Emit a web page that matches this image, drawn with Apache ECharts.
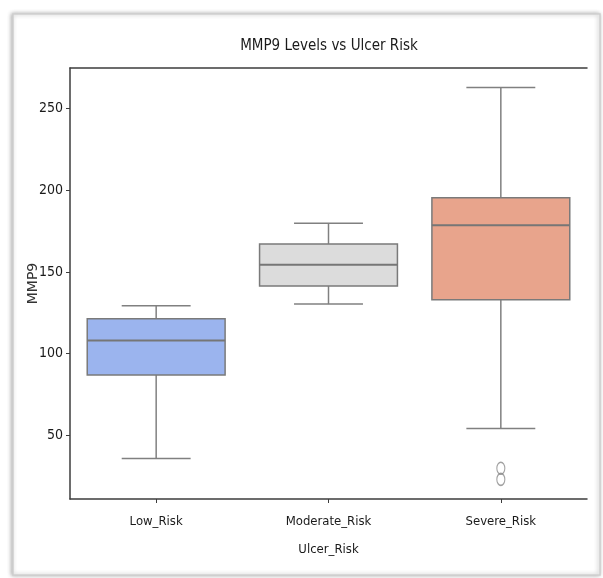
<!DOCTYPE html>
<html>
<head>
<meta charset="utf-8">
<script src="https://cdn.jsdelivr.net/npm/echarts@6/dist/echarts.min.js"></script>
<style>
  html, body { margin: 0; padding: 0; background: #fff; }
  #chart { width: 603px; height: 578px; }
</style>
</head>
<body>
<div id="chart"></div>
<script>
// ---- data ----
var categories = ['Low_Risk', 'Moderate_Risk', 'Severe_Risk'];
var whiskerLow  = [36.0, 130.3, 54.3];
var q1Values    = [87.0, 141.3, 133.0];
var medianVals  = [108.1, 154.3, 178.5];
var q3Values    = [121.3, 167.1, 195.3];
var whiskerHigh = [129.3, 179.7, 262.6];
var outlierCategory = ['Severe_Risk', 'Severe_Risk'];
var outlierValues   = [30.0, 23.2];
var yTicks = [50, 100, 150, 200, 250];

var boxColors = ['#9bb4ee', '#dcdcdc', '#e8a48c'];
var FONT = '"DejaVu Sans Condensed", "Liberation Sans Narrow", "DejaVu Sans", sans-serif';

var boxData = categories.map(function (c, i) {
  return [i, whiskerLow[i], q1Values[i], medianVals[i], q3Values[i], whiskerHigh[i]];
});
var outlierData = outlierValues.map(function (v, i) {
  return [categories.indexOf(outlierCategory[i]), v];
});

var allVals = whiskerLow.concat(whiskerHigh, outlierValues);
var dMin = Math.min.apply(null, allVals), dMax = Math.max.apply(null, allVals);
var pad = (dMax - dMin) * 0.05;

var chart = echarts.init(document.getElementById('chart'));
var lineCol = '#808080';

chart.setOption({
  animation: false,
  backgroundColor: '#fff',
  graphic: [
    { type: 'rect', z: -10, shape: { x: 13, y: 14, width: 587, height: 561 },
      style: { fill: '#fff', stroke: '#cfcfcf', lineWidth: 1.5,
               shadowBlur: 4, shadowColor: 'rgba(0,0,0,0.3)', shadowOffsetX: -1 } },
    { type: 'text', x: 329, y: 46, z: 10,
      style: { text: 'MMP9 Levels vs Ulcer Risk', fill: '#1a1a1a', font: '15px ' + FONT,
               textAlign: 'center', textVerticalAlign: 'middle' } }
  ],
  grid: { left: 70, right: 16, top: 68, bottom: 79, containLabel: false },
  xAxis: [{
    type: 'category', data: categories, position: 'bottom',
    name: 'Ulcer_Risk', nameLocation: 'middle', nameGap: 44,
    nameTextStyle: { color: '#1a1a1a', fontSize: 13, fontFamily: FONT },
    axisLine: { show: true, lineStyle: { color: '#3c3c3c', width: 1.5 } },
    axisTick: { show: true, alignWithLabel: true, length: 4, lineStyle: { color: '#3c3c3c' } },
    axisLabel: { color: '#1a1a1a', fontSize: 13, fontFamily: FONT, margin: 16 },
    splitLine: { show: false }
  }, {
    type: 'category', data: categories, position: 'top',
    axisLine: { show: true, lineStyle: { color: '#3c3c3c', width: 1.5 } },
    axisTick: { show: false }, axisLabel: { show: false }, splitLine: { show: false }
  }],
  yAxis: {
    type: 'value', min: dMin - pad, max: dMax + pad,
    name: 'MMP9', nameLocation: 'middle', nameGap: 30, nameRotate: 90,
    nameMoveOverlap: false,
    nameTextStyle: { color: '#333', fontSize: 14, fontFamily: '"DejaVu Sans", sans-serif' },
    axisLine: { show: true, lineStyle: { color: '#3c3c3c', width: 1.5 } },
    axisTick: { show: true, length: 4, customValues: yTicks, lineStyle: { color: '#3c3c3c' } },
    axisLabel: { color: '#1a1a1a', fontSize: 14, fontFamily: FONT, margin: 7, customValues: yTicks },
    splitLine: { show: false }
  },
  series: [{
    type: 'custom',
    xAxisIndex: 0,
    encode: { x: 0, y: [1, 2, 3, 4, 5] },
    data: boxData,
    renderItem: function (params, api) {
      var idx = api.value(0);
      var band = api.size([1, 0])[0];
      var bw = band * 0.8, cw = bw / 2;
      var pLow = api.coord([idx, api.value(1)]);
      var pQ1 = api.coord([idx, api.value(2)]);
      var pMed = api.coord([idx, api.value(3)]);
      var pQ3 = api.coord([idx, api.value(4)]);
      var pHigh = api.coord([idx, api.value(5)]);
      var cx = pQ1[0];
      var ls = { stroke: lineCol, lineWidth: 1.5 };
      return {
        type: 'group',
        children: [
          { type: 'line', shape: { x1: cx, y1: pQ1[1], x2: cx, y2: pLow[1] }, style: ls },
          { type: 'line', shape: { x1: cx, y1: pQ3[1], x2: cx, y2: pHigh[1] }, style: ls },
          { type: 'line', shape: { x1: cx - cw / 2, y1: pLow[1], x2: cx + cw / 2, y2: pLow[1] }, style: ls },
          { type: 'line', shape: { x1: cx - cw / 2, y1: pHigh[1], x2: cx + cw / 2, y2: pHigh[1] }, style: ls },
          { type: 'rect', shape: { x: cx - bw / 2, y: pQ3[1], width: bw, height: pQ1[1] - pQ3[1] },
            style: { fill: boxColors[params.dataIndex], stroke: '#7a7a7a', lineWidth: 1.5 } },
          { type: 'line', shape: { x1: cx - bw / 2, y1: pMed[1], x2: cx + bw / 2, y2: pMed[1] },
            style: { stroke: '#767676', lineWidth: 2 } }
        ]
      };
    }
  }, {
    type: 'scatter',
    xAxisIndex: 0,
    data: outlierData,
    symbol: 'path://M0,6 A4,6 0 1,0 8,6 A4,6 0 1,0 0,6 Z',
    symbolSize: [8, 12],
    symbolKeepAspect: false,
    itemStyle: { color: 'rgba(0,0,0,0)', borderColor: '#8a8a8a', borderWidth: 1.3 }
  }]
});
</script>
</body>
</html>
